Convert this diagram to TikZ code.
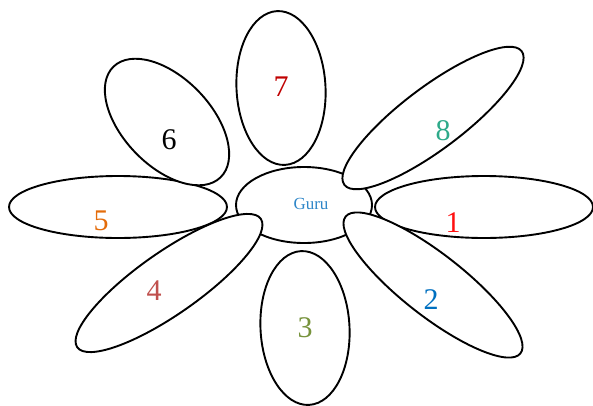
\documentclass[tikz,border=0pt]{standalone}
\usepackage{fontspec}
\setmainfont{Liberation Serif}
\usetikzlibrary{shapes.geometric}
\definecolor{gurublue}{HTML}{2E86C8}
\definecolor{cOne}{HTML}{FF1010}
\definecolor{cTwo}{HTML}{0070C0}
\definecolor{cThree}{HTML}{77933C}
\definecolor{cFour}{HTML}{C0504D}
\definecolor{cFive}{HTML}{E46C0A}
\definecolor{cSix}{HTML}{000000}
\definecolor{cSeven}{HTML}{C00000}
\definecolor{cEight}{HTML}{2EAA8A}
\tikzset{
  petal/.style={ellipse, draw=black, fill=white, line width=1.9pt, inner sep=0pt, outer sep=0pt},
  digit/.style={font=\fontsize{30}{32}\selectfont, inner sep=0pt},
}
\begin{document}
\begin{tikzpicture}[x=1pt,y=-1pt]
\useasboundingbox (0,0) rectangle (593,405);
% centre
\node[petal, minimum width=136pt, minimum height=76pt] (guru) at (304,205) {};
% axis petals
\node[petal, minimum width=218pt, minimum height=62pt] (p1) at (484,207) {};
\node[petal, minimum width=89pt, minimum height=154pt, rotate=3] (p3) at (305,328) {};
\node[petal, minimum width=218pt, minimum height=62pt] (p5) at (118,207) {};
\node[petal, minimum width=89pt, minimum height=154pt, rotate=3] (p7) at (281,88) {};
% diagonal petals
\node[petal, minimum width=222pt, minimum height=62pt, rotate=-38] (p2) at (433,285) {};
\node[petal, minimum width=224pt, minimum height=62pt, rotate=35] (p4) at (169,283) {};
\node[petal, minimum width=88pt, minimum height=154pt, rotate=44] (p6) at (167,122) {};
\node[petal, minimum width=222pt, minimum height=62pt, rotate=37] (p8) at (433,118) {};
% labels
\node[text=gurublue, font=\fontsize{17}{19}\selectfont, inner sep=0pt] (gurulabel) at (311,204) {Guru};
\node[digit, text=cOne] (d1) at (453,223) {1};
\node[digit, text=cTwo] (d2) at (431,300) {2};
\node[digit, text=cThree] (d3) at (305,328) {3};
\node[digit, text=cFour] (d4) at (154,291) {4};
\node[digit, text=cFive] (d5) at (101,221) {5};
\node[digit, text=cSix] (d6) at (169,140) {6};
\node[digit, text=cSeven] (d7) at (281,87) {7};
\node[digit, text=cEight] (d8) at (443,131) {8};
\end{tikzpicture}
\end{document}
